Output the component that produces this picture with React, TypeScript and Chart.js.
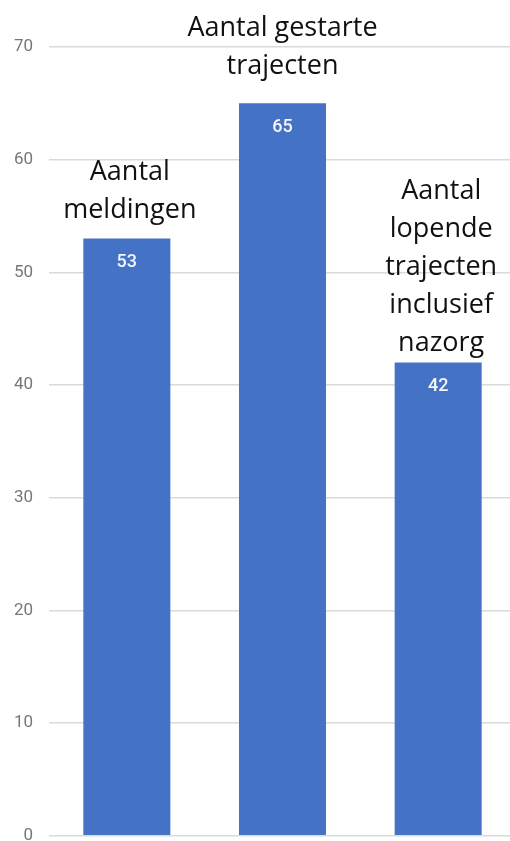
import React, { useEffect, useRef } from "react";
import { Chart, registerables } from "chart.js";

Chart.register(...registerables);

const categories: string[][] = [
  ["Aantal", "meldingen"],
  ["Aantal gestarte", "trajecten"],
  ["Aantal", "lopende", "trajecten", "inclusief", "nazorg"],
];
const values: number[] = [53, 65, 42];
const yTicks: number[] = [0, 10, 20, 30, 40, 50, 60, 70];

const labelPlugin = {
  id: "barLabels",
  afterDatasetsDraw(chart: any, _args: any, opts: any) {
    const ctx = chart.ctx;
    const meta = chart.getDatasetMeta(0);
    meta.data.forEach((bar: any, i: number) => {
      const lines: string[] = categories[i];
      const gap = opts.gaps[i];
      const dx = opts.dx[i];
      ctx.save();
      ctx.textAlign = "center";
      ctx.textBaseline = "alphabetic";
      ctx.fillStyle = "#111111";
      ctx.font = "27px 'Open Sans'";
      const n = lines.length;
      lines.forEach((line, j) => {
        const y = bar.y - gap - (n - 1 - j) * opts.lineHeight;
        ctx.fillText(line, bar.x + dx, y);
      });
      ctx.fillStyle = "#f4f6fb";
      ctx.font = "500 18px Roboto";
      ctx.textBaseline = "middle";
      ctx.fillText(String(values[i]), bar.x, bar.y + 24);
      ctx.restore();
    });
  },
};

export default function App() {
  const ref = useRef<HTMLCanvasElement>(null);
  useEffect(() => {
    if (!ref.current) return;
    const chart = new Chart(ref.current, {
      type: "bar",
      data: {
        labels: categories.map((c) => c.join(" ")),
        datasets: [
          {
            data: values,
            backgroundColor: "#4472C4",
            barPercentage: 0.559,
            categoryPercentage: 1,
          },
        ],
      },
      plugins: [labelPlugin],
      options: {
        responsive: false,
        animation: false,
        devicePixelRatio: 1,
        layout: { padding: { top: 47, bottom: 7, left: 0, right: 0 } },
        plugins: {
          legend: { display: false },
          tooltip: { enabled: false },
          barLabels: { gaps: [21, 29, 12], dx: [3, 0, 3], lineHeight: 38 },
        } as any,
        scales: {
          x: {
            display: false,
            grid: { display: false },
          },
          y: {
            min: 0,
            max: 70,
            afterBuildTicks: (axis: any) => {
              axis.ticks = yTicks.map((v) => ({ value: v }));
            },
            afterFit: (axis: any) => {
              axis.width = 49;
            },
            border: { display: false },
            grid: { color: "#dadada", lineWidth: 1.5, drawTicks: false },
            ticks: {
              padding: 16,
              color: "#777777",
              font: { family: "Roboto", size: 17 },
            },
          },
        },
      },
    });
    return () => chart.destroy();
  }, []);
  return (
    <div
      style={{
        position: "fixed",
        left: 0,
        top: 0,
        width: 510,
        height: 841,
        overflow: "hidden",
        background: "#ffffff",
      }}
    >
      <canvas ref={ref} width={516} height={862} style={{ display: "block" }} />
    </div>
  );
}
